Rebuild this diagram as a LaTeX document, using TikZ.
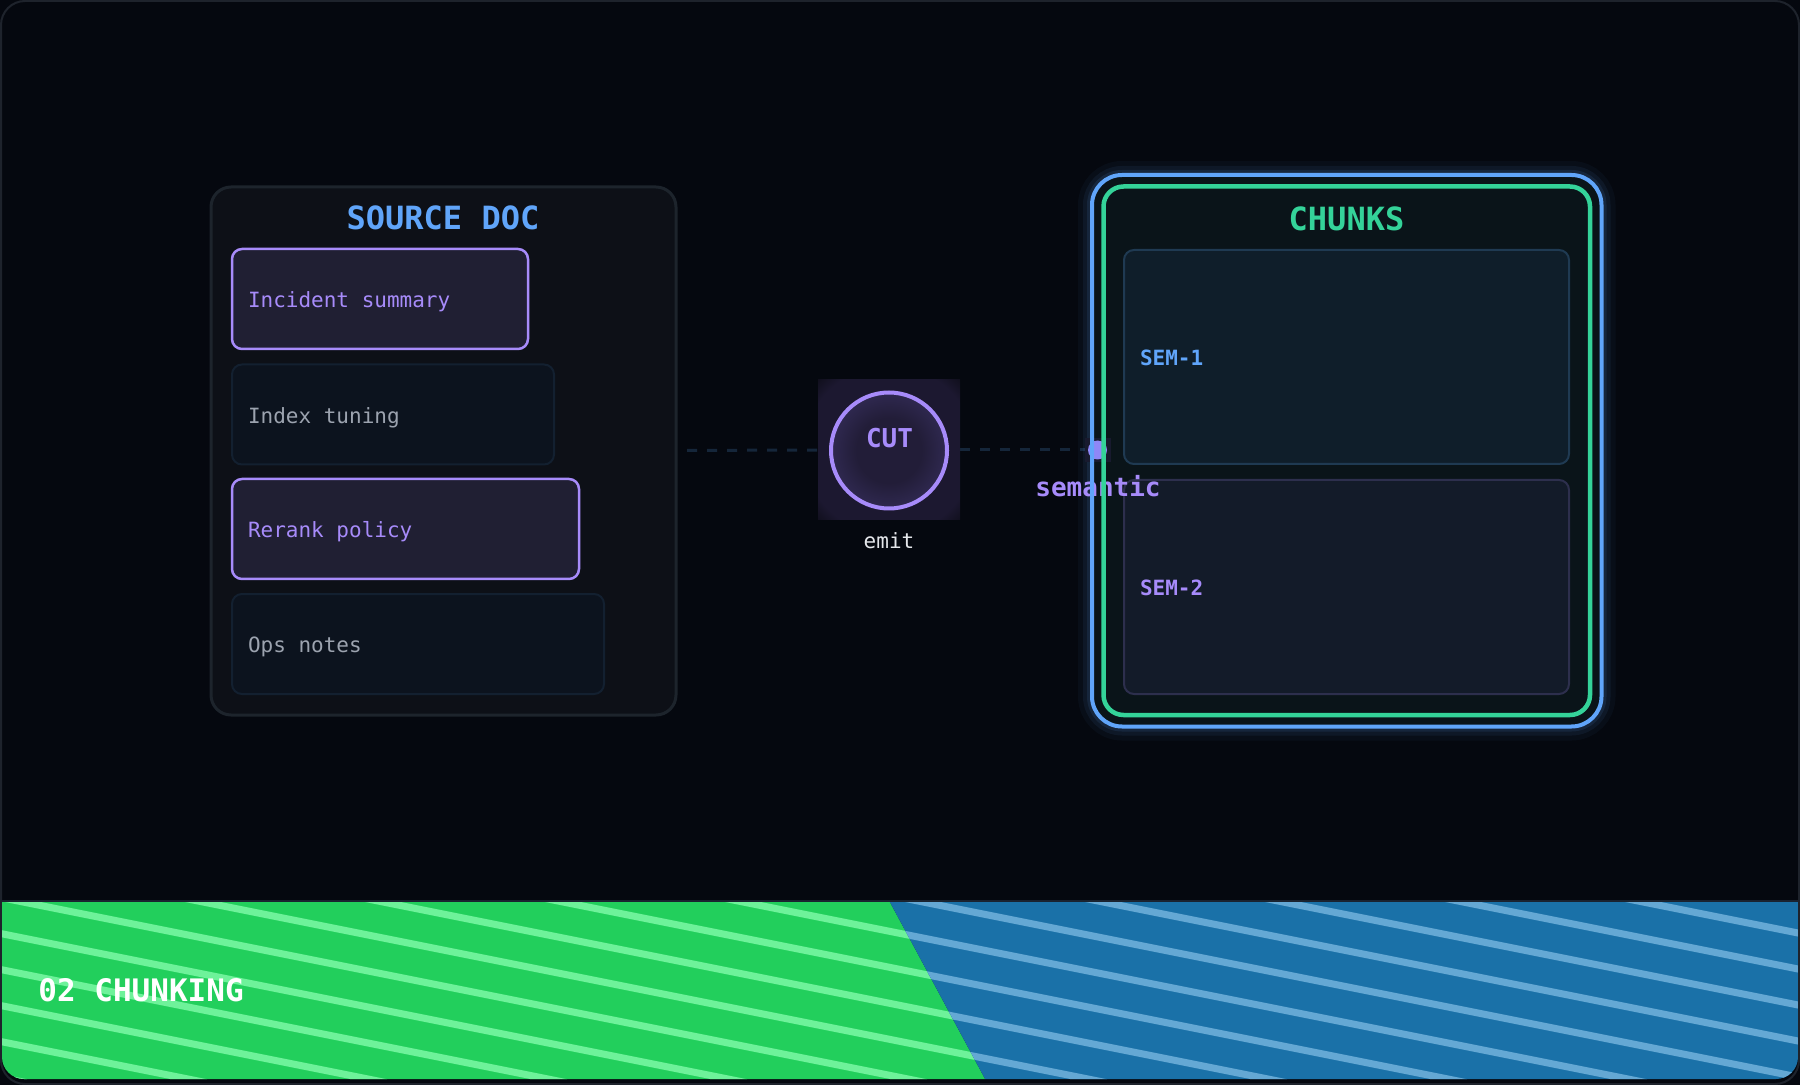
\documentclass[tikz,border=0pt]{standalone}
\usepackage{fontspec}
\newfontfamily\mono{DejaVu Sans Mono}
\definecolor{pagebg}{HTML}{05080F}
\definecolor{framec}{HTML}{1E232C}
\definecolor{panelbg}{HTML}{0D1017}
\definecolor{panelln}{HTML}{1D242C}
\definecolor{purp}{HTML}{A78BFA}
\definecolor{purpfill}{HTML}{201F33}
\definecolor{itembg}{HTML}{0C131E}
\definecolor{itemln}{HTML}{132030}
\definecolor{grayt}{HTML}{9CA3AF}
\definecolor{bluet}{HTML}{60A5FA}
\definecolor{greent}{HTML}{34D399}
\definecolor{chunkbg}{HTML}{0A1419}
\definecolor{sem1bg}{HTML}{0F1E2A}
\definecolor{sem1ln}{HTML}{1F3A52}
\definecolor{sem2bg}{HTML}{131B29}
\definecolor{sem2ln}{HTML}{2D2F4D}
\definecolor{wirec}{HTML}{15263A}
\definecolor{emitc}{HTML}{E5E7EB}
\definecolor{dotfill}{HTML}{8F87F7}
\definecolor{dotglow}{HTML}{181A2E}
\definecolor{glowin}{HTML}{1C1830}
\definecolor{glowmid}{HTML}{0F0E1B}
\definecolor{glowout}{HTML}{090A12}
\definecolor{cutin}{HTML}{221D38}
\definecolor{cutout}{HTML}{3B3366}
\definecolor{bandgreen}{HTML}{22CF5C}
\definecolor{bandblue}{HTML}{1A71A8}
\definecolor{greenstripe}{HTML}{6EF29A}
\definecolor{bluestripe}{HTML}{64A8D4}
\definecolor{bandedge}{HTML}{1A2330}
\pgfdeclareradialshading{glowsq}{\pgfpointorigin}{color(0bp)=(glowin); color(30bp)=(glowin); color(36bp)=(glowmid); color(50bp)=(glowout)}
\pgfdeclareradialshading{cutfill}{\pgfpointorigin}{color(0bp)=(cutin); color(14bp)=(cutin); color(35bp)=(cutout); color(50bp)=(cutout)}
\pgfdeclarelayer{back}
\pgfdeclarelayer{wires}
\pgfsetlayers{back,wires,main}
\newcommand\boxtext[2]{\makebox[#1][l]{#2}}
\tikzset{
  title/.style={font=\mono\bfseries\fontsize{16pt}{19pt}\selectfont},
  item/.style={rounded corners=5pt, minimum height=50pt, inner xsep=8pt, inner ysep=0pt, outer sep=0pt,
    anchor=west, text height=0.92em, text depth=0.05em,
    font=\mono\fontsize{10.5pt}{12pt}\selectfont},
  hot/.style={draw=purp, line width=1.25pt, fill=purpfill, text=purp},
  cold/.style={draw=itemln, line width=1pt, fill=itembg, text=grayt},
  sembox/.style={rounded corners=5pt, line width=1pt, minimum height=107pt, inner xsep=8pt, inner ysep=0pt,
    outer sep=0pt, anchor=west, text height=0.92em, text depth=0.05em,
    font=\mono\bfseries\fontsize{10.5pt}{12pt}\selectfont},
  wire/.style={wirec, line width=1.5pt, dash pattern=on 5pt off 5pt},
  stripe/.style={line width=3.5pt}
}
\begin{document}
\begin{tikzpicture}[x=0.5pt,y=-0.5pt]
\useasboundingbox (0,0) rectangle (1800,1085);
\begin{pgfonlayer}{back}
\fill[pagebg] (0,0) rectangle (1800,1085);
\draw[framec, fill=pagebg, line width=1pt, rounded corners=12pt] (1,1) rectangle (1799,1084);
\end{pgfonlayer}

\node[draw=panelln, fill=panelbg, line width=1.5pt, rounded corners=10pt, outer sep=0pt,
  minimum width=232.5pt, minimum height=264pt] (src) at (443.5,451) {};
\node[title, text=bluet] (srctitle) at (443,218) {SOURCE DOC};
\node[item, hot] (incident) at (232,299) {\boxtext{132pt}{Incident summary}};
\node[item, cold] (index) at (232,414.5) {\boxtext{145pt}{Index tuning}};
\node[item, hot] (rerank) at (232,529) {\boxtext{157.5pt}{Rerank policy}};
\node[item, cold] (ops) at (232,644) {\boxtext{170pt}{Ops notes}};

\node[shade, shading=glowsq, minimum width=71pt, minimum height=70pt, inner sep=0pt] (cutglow) at (889,450) {};
\node[circle, draw=purp, line width=2pt, minimum size=58pt, inner sep=0pt, shade, shading=cutfill] (cut) at (889,450.5) {};
\node[font=\mono\bfseries\fontsize{13pt}{15pt}\selectfont, text=purp] (cuttxt) at (889.5,438.5) {CUT};
\node[font=\mono\fontsize{10.5pt}{12pt}\selectfont, text=emitc] (emit) at (889,540.5) {emit};

\node[inner sep=0pt, outer sep=0pt, minimum width=243.25pt, minimum height=264.25pt] (chunks) at (1346.75,450.75) {};
\coordinate (bnw) at ([shift={(-11.5,-11.5)}]chunks.north west);
\coordinate (bse) at ([shift={(11.5,11.5)}]chunks.south east);
\foreach \w/\o in {14/0.04,9/0.07,5/0.1}
  \draw[bluet, line width=\w pt, opacity=\o, rounded corners=15pt] (bnw) rectangle (bse);
\fill[chunkbg, rounded corners=15pt] (bnw) rectangle (bse);
\node[sembox, draw=sem1ln, fill=sem1bg, text=bluet] (sem1) at (1124,357) {\boxtext{206.5pt}{SEM-1}};
\node[sembox, draw=sem2ln, fill=sem2bg, text=purp] (sem2) at (1124,587) {\boxtext{206.5pt}{SEM-2}};

\coordinate (dotc) at (1097.5,450);
\fill[dotglow] ([shift={(-13,-12)}]dotc) rectangle ([shift={(13,12)}]dotc);
\node[circle, fill=dotfill, minimum size=9.5pt, inner sep=0pt] (dot) at (dotc) {};
\node[font=\mono\bfseries\fontsize{13pt}{15pt}\selectfont, text=purp] (semantic) at (1098,486.5) {semantic};

\draw[bluet, line width=2pt, rounded corners=15pt] (bnw) rectangle (bse);
\draw[greent, line width=2.25pt, rounded corners=10pt] (chunks.north west) rectangle (chunks.south east);
\node[title, text=greent] (chunkstitle) at (1346.5,218.5) {CHUNKS};

\begin{pgfonlayer}{wires}
\draw[wire, shorten <=5.5pt] (src.east |- cut) -- (cutglow.west);
\draw[wire] (cutglow.east) -- (dot);
\end{pgfonlayer}

\begin{scope}
\clip[rounded corners=11pt] (2,860) rectangle (1798,1079);
\clip (2,902) rectangle (1798,1090);
\begin{scope}
\clip (0,880) -- (878,880) -- (991,1090) -- (0,1090) -- cycle;
\fill[bandgreen] (0,880) rectangle (1000,1090);
\foreach \k in {-5,...,10}
  \draw[stripe, greenstripe] (23+180*\k-100,882) -- ++(1200,240);
\end{scope}
\begin{scope}
\clip (878,880) -- (1800,880) -- (1800,1090) -- (991,1090) -- cycle;
\fill[bandblue] (860,880) rectangle (1800,1090);
\foreach \k in {-5,...,10}
  \draw[stripe, bluestripe] (23+180*\k-100,882) -- ++(1200,240);
\end{scope}
\end{scope}
\draw[bandedge, line width=0.75pt] (2,901) -- (1798,901);
\node[anchor=west, inner sep=0pt, text=white, font=\mono\bfseries\fontsize{15.5pt}{18pt}\selectfont] (footer) at (38,990) {02 CHUNKING};
\end{tikzpicture}
\end{document}
